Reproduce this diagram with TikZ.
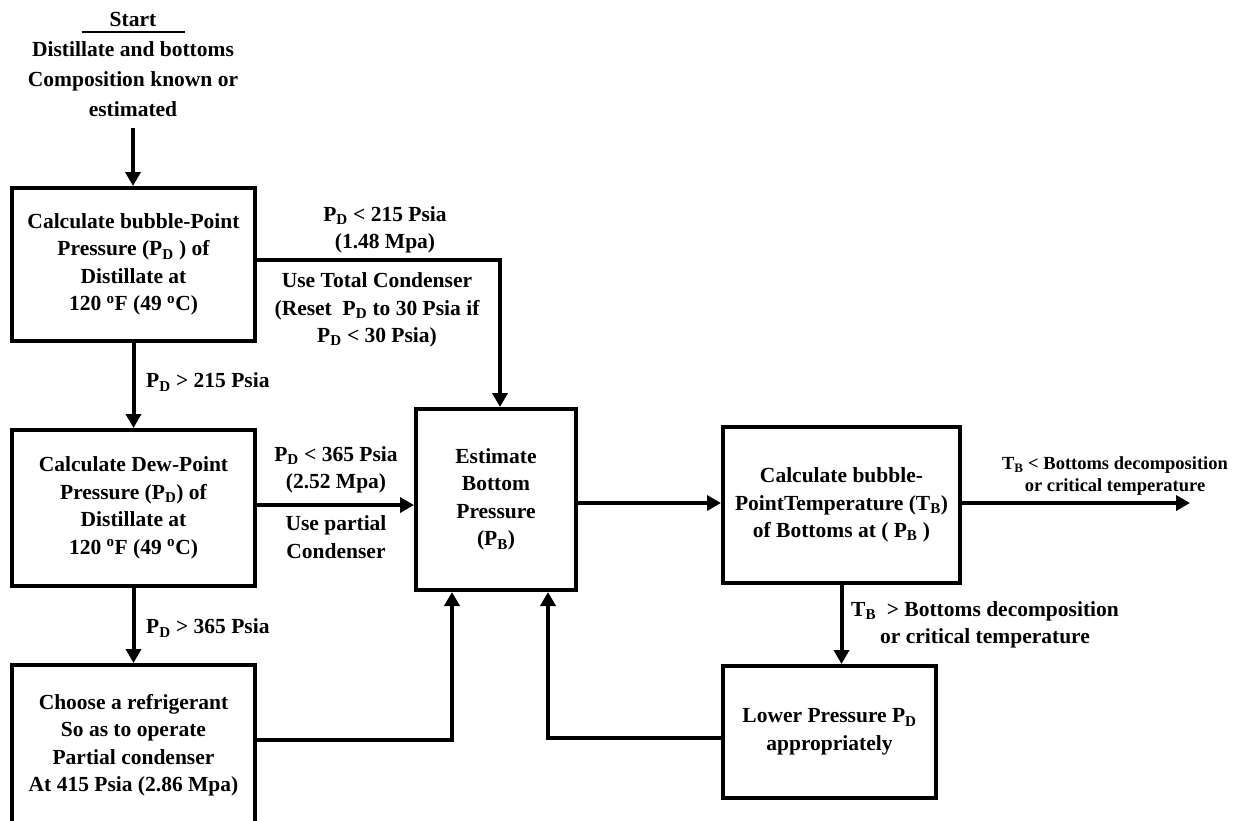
\documentclass[tikz,border=0pt]{standalone}
\usepackage{fontspec}
\setmainfont{Liberation Serif}
\usetikzlibrary{arrows.meta,positioning}

\begin{document}
\begin{tikzpicture}[x=1pt,y=-1pt,
boxnode/.style={draw=black, line width=4pt, align=center, inner sep=0pt, font=\bfseries\fontsize{21.5}{27.5}\selectfont},
txtnode/.style={align=center, inner sep=0pt, font=\bfseries\fontsize{21.5}{27.5}\selectfont},
smallnode/.style={align=center, inner sep=0pt, font=\bfseries\fontsize{18.5}{22}\selectfont},
flow/.style={line width=4pt, -{Triangle[width=15pt,length=14pt]}},
line/.style={line width=4pt},
]
\useasboundingbox (0,0) rectangle (1233,820);
\clip (0,0) rectangle (1233,820);

%Nodes
\node[txtnode, font=\bfseries\fontsize{21.5}{30}\selectfont] (start) at (133,64)
  {\makebox[103pt]{Start}\llap{\rule[-7pt]{103pt}{2.5pt}}\\Distillate and bottoms\\Composition known or\\estimated};
\node[boxnode, minimum width=243pt, minimum height=153pt] (bubble) at (133.5,264.5)
  {Calculate bubble-Point\\Pressure (P\textsubscript{D} ) of\\Distillate at\\120 \textsuperscript{o}F (49 \textsuperscript{o}C)};
\node[boxnode, minimum width=243pt, minimum height=156pt] (dew) at (133.5,508)
  {Calculate Dew-Point\\Pressure (P\textsubscript{D}) of\\Distillate at\\120 \textsuperscript{o}F (49 \textsuperscript{o}C)};
\node[boxnode, minimum width=243pt, minimum height=160pt] (refrig) at (133.5,745)
  {Choose a refrigerant\\So as to operate\\Partial condenser\\At 415 Psia (2.86 Mpa)};
\node[boxnode, minimum width=160pt, minimum height=181pt] (estimate) at (496,499.5)
  {Estimate\\Bottom\\Pressure\\(P\textsubscript{B})};
\node[boxnode, minimum width=237pt, minimum height=156pt] (bubbleT) at (841.5,505)
  {Calculate bubble-\\PointTemperature (T\textsubscript{B})\\of Bottoms at ( P\textsubscript{B} )};
\node[boxnode, minimum width=213pt, minimum height=132pt] (lower) at (829.5,732)
  {Lower Pressure P\textsubscript{D}\\appropriately};
\coordinate (done) at (1190,503);

%Labels
\node[txtnode, anchor=west] (gt215) at (146,382) {P\textsubscript{D} > 215 Psia};
\node[txtnode, anchor=west] (gt365) at (146,628) {P\textsubscript{D} > 365 Psia};
\node[txtnode] (lt215) at (385,230) {P\textsubscript{D} < 215 Psia\\(1.48 Mpa)};
\node[txtnode] (total) at (377,310) {Use Total Condenser\\(Reset \ P\textsubscript{D} to 30 Psia if\\P\textsubscript{D} < 30 Psia)};
\node[txtnode] (lt365) at (336,470) {P\textsubscript{D} < 365 Psia\\(2.52 Mpa)};
\node[txtnode] (partial) at (336,537) {Use partial\\Condenser};
\node[smallnode] (tbok) at (1115,476) {T\textsubscript{B} < Bottoms decomposition\\or critical temperature};
\node[txtnode, anchor=west] (tbhigh) at (851,625) {T\textsubscript{B} \ > Bottoms decomposition\\or critical temperature};

%Lines
\draw[flow, shorten <=12pt] (start.south) -- (start.south |- bubble.north);
\draw[flow] (bubble.south) -- (bubble.south |- dew.north);
\draw[flow] (dew.south) -- (dew.south |- refrig.north);
\draw[flow] ([yshift=4.5pt]bubble.east) -| ([xshift=4pt]estimate.north);
\draw[flow] ([yshift=3pt]dew.east) -- ([yshift=3pt]dew.east -| estimate.west);
\draw[flow] ([yshift=5pt]refrig.east) -| ([xshift=-44pt]estimate.south);
\draw[flow] ([yshift=-3.5pt]estimate.east) -- ([yshift=-3.5pt]estimate.east -| bubbleT.west);
\draw[flow] (bubbleT.east |- done) -- (done);
\draw[flow] (bubbleT.south) -- (bubbleT.south |- lower.north);
\draw[flow] ([yshift=-6pt]lower.west) -| ([xshift=52pt]estimate.south);

\end{tikzpicture}
\end{document}
